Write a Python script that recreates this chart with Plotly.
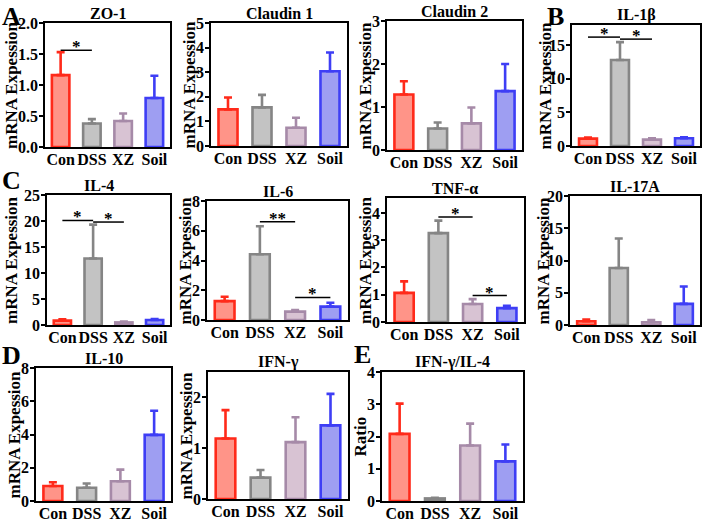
import plotly.graph_objects as go

W, H = 702, 524
categories = ["Con", "DSS", "XZ", "Soil"]

# ---- data (means and upper error) ----
zo1 = [1.16, 0.38, 0.42, 0.79]
zo1_err = [0.37, 0.07, 0.12, 0.36]
cld1 = [1.49, 1.57, 0.74, 3.04]
cld1_err = [0.48, 0.51, 0.41, 0.76]
cld2 = [1.29, 0.50, 0.62, 1.37]
cld2_err = [0.31, 0.14, 0.37, 0.63]
il1b = [1.10, 12.8, 0.95, 1.15]
il1b_err = [0.15, 2.65, 0.20, 0.15]
il4 = [0.85, 12.8, 0.50, 0.95]
il4_err = [0.25, 6.5, 0.15, 0.20]
il6 = [1.27, 4.42, 0.56, 0.90]
il6_err = [0.29, 1.88, 0.11, 0.26]
tnfa = [1.07, 3.26, 0.66, 0.51]
tnfa_err = [0.42, 0.46, 0.18, 0.08]
il17a = [0.57, 8.83, 0.42, 3.27]
il17a_err = [0.26, 4.57, 0.36, 2.70]
il10 = [0.90, 0.80, 1.19, 3.98]
il10_err = [0.23, 0.25, 0.70, 1.45]
ifng = [1.19, 0.42, 1.12, 1.45]
ifng_err = [0.56, 0.15, 0.49, 0.62]
ratio = [2.08, 0.08, 1.72, 1.23]
ratio_err = [0.94, 0.02, 0.68, 0.52]

titles = ["ZO-1", "Claudin 1", "Claudin 2", "IL-1β", "IL-4", "IL-6", "TNF-α",
          "IL-17A", "IL-10", "IFN-γ", "IFN-γ/IL-4"]
ytitles = ["mRNA Expession"] * 10 + ["Ratio"]
means = [zo1, cld1, cld2, il1b, il4, il6, tnfa, il17a, il10, ifng, ratio]
errs = [zo1_err, cld1_err, cld2_err, il1b_err, il4_err, il6_err, tnfa_err,
        il17a_err, il10_err, ifng_err, ratio_err]
ymax = [2, 5, 3, 18, 25, 8, 4.55, 20, 8, 2.5, 4]
ydtick = [0.5, 1, 1, 5, 5, 2, 1, 5, 2, 1, 1]

# significance brackets
sig_panel = [0, 3, 3, 4, 4, 5, 5, 6, 6]
sig_from = [0, 0, 1, 0, 1, 1, 2, 1, 2]
sig_to = [1, 1, 2, 1, 2, 2, 3, 2, 3]
sig_y = [1.56, 16.2, 15.9, 20.1, 19.8, 6.6, 1.52, 3.85, 0.97]
sig_text = ["*", "*", "*", "*", "*", "**", "*", "*", "*"]

# ---- layout geometry (pixels: left, right, top, bottom) ----
boxes = [
    (45, 170, 23, 147), (211, 347, 23, 146), (387, 522, 21, 150), (572, 700, 25, 146),
    (47, 170, 195, 325), (207, 348, 201, 320), (387, 524, 198, 322), (570, 700, 196, 325),
    (36, 171, 368, 501), (208, 348, 372, 499), (382, 523, 372, 501),
]
ytitle_x = [11, 189, 365, 545, 11, 185, 365, 543, 14, 186, 360]
title_dx = [0, 0, 0, 0, -10, 0, 0, 0, 0, 0, 0]
letters = [("A", 0, 0), ("B", 545, 0), ("C", 0, 164), ("D", 0, 339), ("E", 352, 338)]

edge = ["#FF2A1A", "#858585", "#A68AA8", "#3E3EF5"]
fill = ["#FF9488", "#C3C3C3", "#D8C3D3", "#9E9EF2"]
FONT = "Liberation Serif"
idx = list(range(len(categories)))

fig = go.Figure()
annotations = []
shapes = []
for i in range(len(titles)):
    n = "" if i == 0 else str(i + 1)
    l, r, t, b = boxes[i]
    for j in idx:
        fig.add_trace(go.Bar(
            x=[j], y=[means[i][j]], xaxis="x" + n, yaxis="y" + n,
            width=0.56,
            marker=dict(color=fill[j], line=dict(color=edge[j], width=2.6)),
            error_y=dict(type="data", array=[errs[i][j]], arrayminus=[0], symmetric=False,
                         color=edge[j], thickness=2.6, width=4),
            showlegend=False, hoverinfo="skip",
        ))
    fig.layout["xaxis" + n] = dict(
        domain=[l / W, r / W], anchor="y" + n, range=[-0.5, 3.5],
        tickmode="array", tickvals=idx, ticktext=categories,
        showline=True, mirror=True, linecolor="black", linewidth=1.5,
        ticks="", showgrid=False, zeroline=False, automargin=False, tickangle=0,
        ticklabelstandoff=-3,
        tickfont=dict(family=FONT, size=16, color="black", weight="bold"),
    )
    fig.layout["yaxis" + n] = dict(
        domain=[1 - b / H, 1 - t / H], anchor="x" + n, range=[0, ymax[i]],
        dtick=ydtick[i], tick0=0, tickformat=".1f" if i == 0 else "d",
        showline=True, mirror=True, linecolor="black", linewidth=1.5,
        ticks="outside", ticklen=4, tickwidth=1.5, tickcolor="black",
        ticklabelstandoff=-2,
        showgrid=False, zeroline=False, automargin=False,
        tickfont=dict(family=FONT, size=16, color="black", weight="bold"),
    )
    annotations.append(dict(
        text=titles[i], xref="paper", yref="paper", x=((l + r) / 2 + title_dx[i]) / W,
        y=1 - t / H, xanchor="center", yanchor="bottom", showarrow=False, yshift=-1,
        font=dict(family=FONT, size=16, color="black", weight="bold"),
    ))
    annotations.append(dict(
        text=ytitles[i], xref="paper", yref="paper", x=ytitle_x[i] / W,
        y=1 - (t + b) / 2 / H, xanchor="center", yanchor="middle", textangle=-90,
        showarrow=False,
        font=dict(family=FONT, size=17, color="black", weight="bold"),
    ))

for k in range(len(sig_panel)):
    p = sig_panel[k]
    n = "" if p == 0 else str(p + 1)
    shapes.append(dict(type="line", xref="x" + n, yref="y" + n,
                       x0=sig_from[k], x1=sig_to[k], y0=sig_y[k], y1=sig_y[k],
                       line=dict(color="black", width=1.5)))
    annotations.append(dict(
        text=sig_text[k], xref="x" + n, yref="y" + n,
        x=(sig_from[k] + sig_to[k]) / 2, y=sig_y[k], xanchor="center", yanchor="bottom",
        showarrow=False, yshift=-8,
        font=dict(family=FONT, size=17, color="black", weight="bold"),
    ))

for txt, px, py in letters:
    annotations.append(dict(
        text=txt, xref="paper", yref="paper", x=px / W, y=1 - py / H,
        xanchor="left", yanchor="top", showarrow=False,
        font=dict(family=FONT, size=26, color="black", weight="bold"),
    ))

fig.update_layout(
    width=W, height=H, margin=dict(l=0, r=0, t=0, b=0),
    paper_bgcolor="white", plot_bgcolor="white",
    annotations=annotations, shapes=shapes,
)
fig.write_html("out.html")
